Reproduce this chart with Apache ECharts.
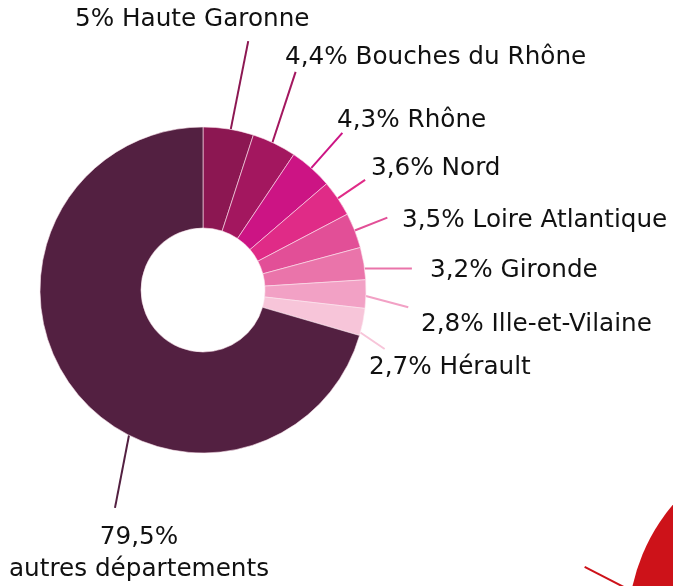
<!DOCTYPE html>
<html>
<head>
<meta charset="utf-8">
<script src="https://cdn.jsdelivr.net/npm/echarts@6/dist/echarts.min.js"></script>
<style>
  html, body { margin: 0; padding: 0; background: #fff; }
  #main { width: 673px; height: 586px; }
</style>
</head>
<body>
<div id="main"></div>
<script>
// départements (parts affichées / parts dessinées dans l'anneau)
var departements = ['Haute Garonne', 'Bouches du Rhône', 'Rhône', 'Nord', 'Loire Atlantique', 'Gironde', 'Ille-et-Vilaine', 'Hérault', 'autres départements'];
var partsAffichees = [5, 4.4, 4.3, 3.6, 3.5, 3.2, 2.8, 2.7, 79.5];
var partsDessinees = [5, 4.4, 4.3, 3.6, 3.5, 3.2, 2.8, 2.7, 70.5];
// villes (second camembert, coupé par le cadre)
var villes = ['autres villes'];
var partsVilles = [44];

var couleurs = ['#8c1752', '#a3175f', '#cc1484', '#e02b87', '#e24f97', '#ea74aa', '#f2a1c5', '#f7c5d9', '#532041'];
var rouge = '#cd1219';

// mise en page
var cx = 203, cy = 290, rOut = 163, rIn = 62;
var longueurs = [90, 74, 47, 33, 35, 47, 43, 28, 72];
var ancres = [
  { x: 75, y: 20, angles: [9.8, 10.3] },
  { x: 285, y: 58, angles: [25.2, 23] },
  { x: 337, y: 121 },
  { x: 371, y: 169 },
  { x: 402, y: 221 },
  { x: 430, y: 271, angles: [82.4, 84.1] },
  { x: 421, y: 325, angles: [92.1, 94.8] },
  { x: 369, y: 368, angles: [105.1, 108] },
  { x: 139, y: 554, align: 'center', angles: [207, 202] }
];
var cx2 = 817, cy2 = 627, r2 = 189;

function pct(v) {
  return String(v).replace('.', ',') + '%';
}
function polar(x0, y0, deg, r) {
  var a = deg * Math.PI / 180;
  return [x0 + r * Math.sin(a), y0 - r * Math.cos(a)];
}

var police = { fontFamily: 'DejaVu Sans', fontSize: 24.7, color: '#111' };

var dataDep = departements.map(function (nom, i) {
  return {
    name: nom,
    value: partsDessinees[i],
    itemStyle: { color: couleurs[i] },
    labelLine: { length: longueurs[i], length2: 0 }
  };
});

var dataVilles = villes.map(function (nom, i) {
  return { name: nom, value: partsVilles[i], itemStyle: { color: rouge } };
});

var chart = echarts.init(document.getElementById('main'), null, { renderer: 'canvas' });

chart.setOption({
  animation: false,
  series: [
    {
      type: 'pie',
      center: [cx, cy],
      radius: [rIn, rOut],
      startAngle: 90,
      clockwise: true,
      avoidLabelOverlap: false,
      silent: true,
      itemStyle: { borderColor: '#fbe6ef', borderWidth: 0.6 },
      label: Object.assign({
        show: true,
        position: 'outside',
        lineHeight: 32,
        formatter: function (p) {
          var i = p.dataIndex;
          if (i === departements.length - 1) return pct(partsAffichees[i]) + '\n' + departements[i];
          return pct(partsAffichees[i]) + ' ' + departements[i];
        }
      }, police),
      labelLine: { show: true, lineStyle: { width: 2 } },
      labelLayout: function (p) {
        var a = ancres[p.dataIndex];
        var pts = p.labelLinePoints;
        if (a.angles) {
          pts = [polar(cx, cy, a.angles[0], rOut), polar(cx, cy, a.angles[1], rOut + longueurs[p.dataIndex])];
        }
        return {
          x: a.x,
          y: a.y,
          align: a.align || 'left',
          verticalAlign: 'middle',
          labelLinePoints: pts
        };
      },
      data: dataDep
    },
    {
      type: 'pie',
      center: [cx2, cy2],
      radius: r2,
      silent: true,
      label: Object.assign({
        show: true,
        position: 'outside',
        lineHeight: 33,
        formatter: function (p) {
          return pct(partsVilles[p.dataIndex]) + '\n' + villes[p.dataIndex];
        }
      }, police),
      labelLine: { show: true, length: 50, length2: 0, lineStyle: { width: 2, color: rouge } },
      labelLayout: function () {
        return {
          x: 540,
          y: 508,
          align: 'center',
          verticalAlign: 'middle',
          labelLinePoints: [polar(cx2, cy2, 281, r2), polar(cx2, cy2, 284.5, 240)]
        };
      },
      data: dataVilles
    }
  ]
});
</script>
</body>
</html>
